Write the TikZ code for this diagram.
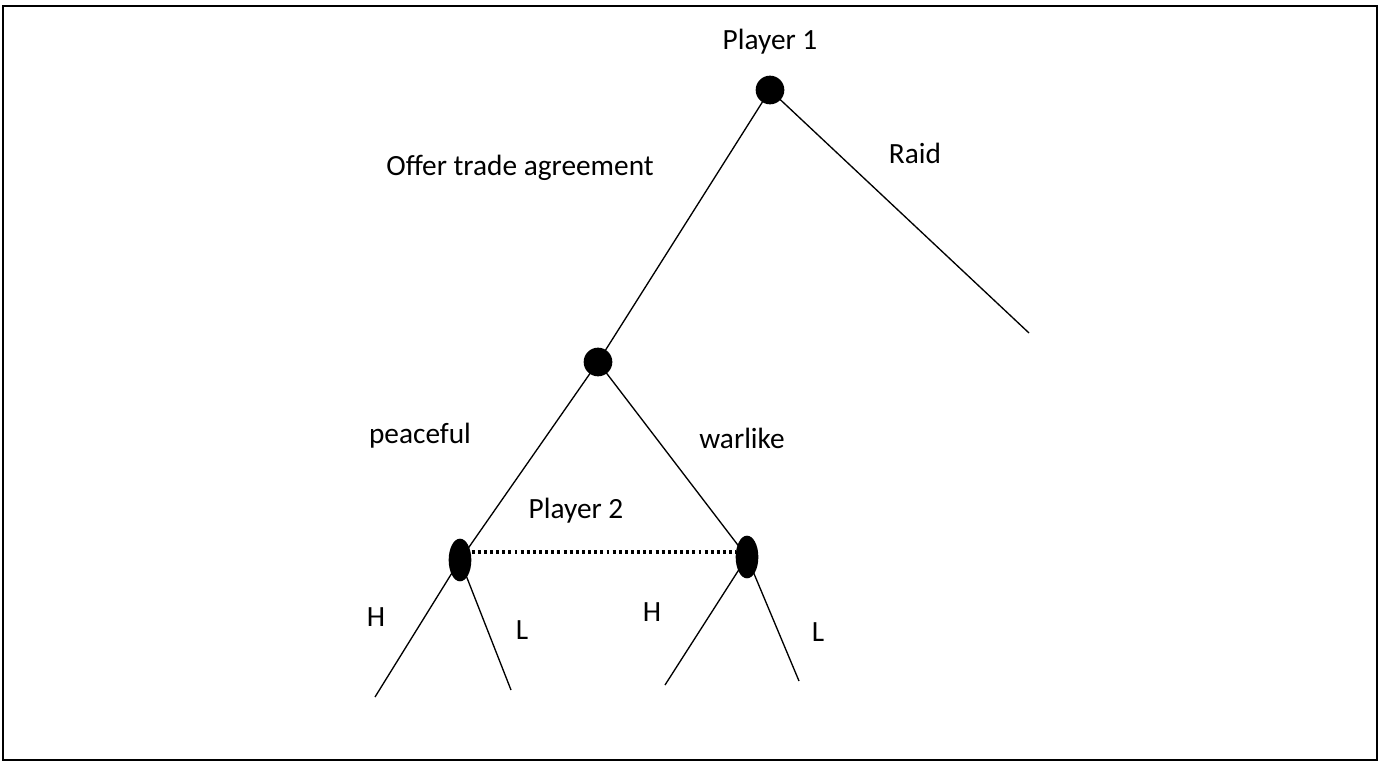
\documentclass[tikz,border=0pt]{standalone}
\usepackage{fontspec}
\setmainfont{Carlito}
\usetikzlibrary{shapes.geometric}
\begin{document}
\begin{tikzpicture}[x=0.75pt,y=-0.75pt,
  edge/.style={line width=1pt,black},
  dotnode/.style={circle,fill=black,inner sep=0pt,minimum size=21.5pt},
  infonode/.style={ellipse,fill=black,inner sep=0pt,minimum width=17pt,minimum height=32pt},
  lbl/.style={font=\fontsize{22}{26}\selectfont,inner sep=0pt}]
\useasboundingbox (0,0) rectangle (1387,763);
\draw[line width=2pt] (3,6) rectangle (1377,760);
\node[dotnode] (n1) at (770,90) {};
\node[dotnode] (n2) at (598,362) {};
\node[infonode] (n3) at (460,560) {};
\node[infonode] (n4) at (747,557) {};
\coordinate (raid) at (1029,333);
\coordinate (l1) at (375,697);
\coordinate (l2) at (511,690);
\coordinate (l3) at (665,685);
\coordinate (l4) at (799,681);
\draw[edge] (n1.center) -- (n2.center);
\draw[edge] (n1.center) -- (raid);
\draw[edge] (n2.center) -- (n3.center);
\draw[edge] (n2.center) -- (n4.center);
\draw[edge] (n3.center) -- (l1);
\draw[edge] (n3.center) -- (l2);
\draw[edge] (n4.center) -- (l3);
\draw[edge] (n4.center) -- (l4);
\draw[line width=2.3pt,dash pattern=on 2.2pt off 2.4pt] (n3.east |- 0,552) -- (n4.west |- 0,552);
\node[lbl] (p1) at (770,42) {Player 1};
\node[lbl] (ota) at (520,168) {Offer trade agreement};
\node[lbl] (rd) at (915,153) {Raid};
\node[lbl] (pc) at (420,436) {peaceful};
\node[lbl] (wl) at (742,438) {warlike};
\node[lbl] (p2) at (576,511) {Player 2};
\node[lbl] (h1) at (376,617) {H};
\node[lbl] (lL1) at (522,630) {L};
\node[lbl] (h2) at (652,612) {H};
\node[lbl] (lL2) at (818,632) {L};
\end{tikzpicture}
\end{document}
